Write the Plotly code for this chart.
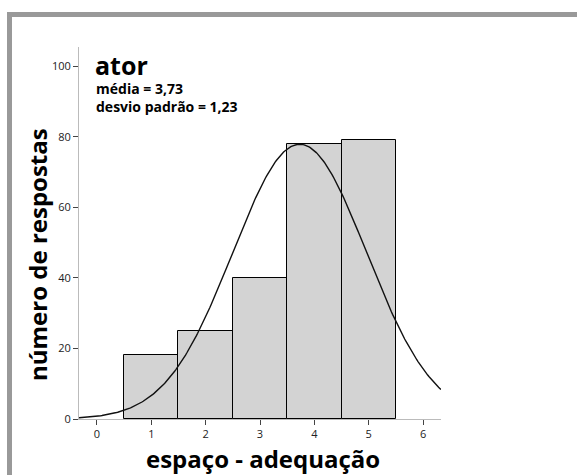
import numpy as np
import plotly.graph_objects as go

# data
categories = [1, 2, 3, 4, 5]
counts = [18, 25, 40, 78, 79]
mean_val = 3.73
sd_val = 1.23
y_ticks = [0, 20, 40, 60, 80, 100]
x_ticks = [0, 1, 2, 3, 4, 5, 6]

n_total = sum(counts)
xs = np.linspace(-0.33, 6.33, 300)
ys = n_total * 1.0 / (sd_val * np.sqrt(2 * np.pi)) * np.exp(-0.5 * ((xs - mean_val) / sd_val) ** 2)

fig = go.Figure()
fig.add_trace(go.Bar(x=categories, y=counts, width=1,
                     marker=dict(color="#d3d3d3", line=dict(color="black", width=1)),
                     showlegend=False, hoverinfo="skip"))
fig.add_trace(go.Scatter(x=xs, y=ys, mode="lines",
                         line=dict(color="#111111", width=1.4), showlegend=False, hoverinfo="skip"))

W, H = 577, 475
L, R, T, B = 79, 136, 47, 56
pw, ph = W - L - R, H - T - B

def px(x):
    return (x - L) / pw

def py(y):
    return (H - B - y) / ph

fig.update_layout(
    width=W, height=H,
    margin=dict(l=L, r=R, t=T, b=B),
    paper_bgcolor="white", plot_bgcolor="white",
    font=dict(family="Open Sans", color="#222"),
    xaxis=dict(range=[-0.33, 6.33], tickvals=x_ticks, ticks="outside", ticklen=5,
               tickcolor="#444", showline=True, linecolor="#bbbbbb", linewidth=1,
               showgrid=False, zeroline=False, tickfont=dict(size=11, color="#222")),
    yaxis=dict(range=[0, 105.4], tickvals=y_ticks, ticks="outside", ticklen=5,
               tickcolor="#444", showline=True, linecolor="#bbbbbb", linewidth=1,
               showgrid=False, zeroline=False, tickfont=dict(size=11, color="#222")),
    bargap=0,
)

fig.add_shape(type="rect", xref="paper", yref="paper",
              x0=px(9.5), x1=px(600), y0=py(14.5), y1=py(520),
              line=dict(color="#999999", width=5), fillcolor="rgba(0,0,0,0)", layer="above")

fig.add_annotation(text="<b>ator</b>", xref="paper", yref="paper", x=px(93), y=py(65),
                   xanchor="left", yanchor="middle", showarrow=False,
                   font=dict(size=25, color="black", family="Open Sans"))
fig.add_annotation(text="<b>média = 3,73</b>", xref="paper", yref="paper", x=px(94), y=py(88),
                   xanchor="left", yanchor="middle", showarrow=False,
                   font=dict(size=14, color="black", family="Open Sans"))
fig.add_annotation(text="<b>desvio padrão = 1,23</b>", xref="paper", yref="paper", x=px(94), y=py(107),
                   xanchor="left", yanchor="middle", showarrow=False,
                   font=dict(size=14, color="black", family="Open Sans"))
fig.add_annotation(text="<b>número de respostas</b>", xref="paper", yref="paper", x=px(38), y=py(255),
                   xanchor="center", yanchor="middle", showarrow=False, textangle=-90,
                   font=dict(size=24, color="black", family="Open Sans"))
fig.add_annotation(text="<b>espaço - adequação</b>", xref="paper", yref="paper", x=px(263), y=py(459),
                   xanchor="center", yanchor="middle", showarrow=False,
                   font=dict(size=24, color="black", family="Open Sans"))

fig.write_html("out.html")
